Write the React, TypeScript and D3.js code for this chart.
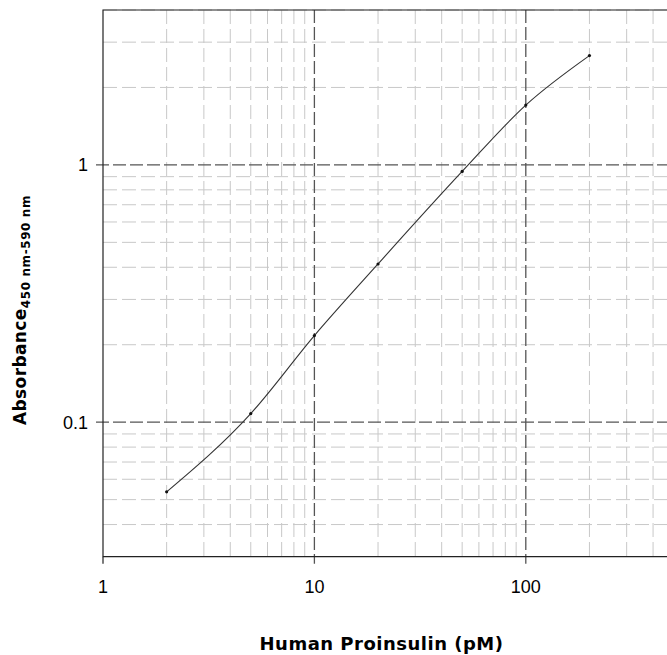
import React, { useRef, useEffect } from "react"
import * as d3 from "d3"

// Proinsulin standard curve
const concentrations = [2, 5, 10, 20, 50, 100, 200]
const absorbance = [0.0536, 0.108, 0.217, 0.412, 0.943, 1.708, 2.66]
const xMajorTicks = [1, 10, 100]
const xTickLabels = ["1", "10", "100"]
const yMajorTicks = [0.1, 1]
const yTickLabels = ["0.1", "1"]
const xMinorTicks = [2, 3, 4, 5, 6, 7, 8, 9, 20, 30, 40, 50, 60, 70, 80, 90, 200, 300, 400]
const yMinorTicks = [0.04, 0.05, 0.06, 0.07, 0.08, 0.09, 0.2, 0.3, 0.4, 0.5, 0.6, 0.7, 0.8, 0.9, 2, 3, 4]

const App = () => {
    const element = useRef<SVGSVGElement>(null)

    useEffect(() => {
        const width = 667
        const left = 103, top = 10, bottom = 556.7, decade = 211.4

        const svg = d3.select(element.current)
        svg.selectAll("*").remove()

        const x = d3.scaleLog()
            .domain([1, 1000])
            .range([left, left + 3 * decade])

        const y = d3.scaleLog()
            .domain([0.03, 4])
            .range([bottom, top])

        const right = width

        // minor grid
        svg.append("g")
            .selectAll("line")
            .data(xMinorTicks)
            .enter()
            .append("line")
            .attr("x1", d => x(d)).attr("x2", d => x(d))
            .attr("y1", top).attr("y2", bottom)
            .attr("stroke", "#c8c8c8")
            .attr("stroke-width", 1)
            .attr("stroke-dasharray", "14,5")

        svg.append("g")
            .selectAll("line")
            .data(yMinorTicks)
            .enter()
            .append("line")
            .attr("y1", d => y(d)).attr("y2", d => y(d))
            .attr("x1", left).attr("x2", right)
            .attr("stroke", "#c8c8c8")
            .attr("stroke-width", 1)
            .attr("stroke-dasharray", "14,5")

        // major grid
        svg.append("g")
            .selectAll("line")
            .data(xMajorTicks.slice(1))
            .enter()
            .append("line")
            .attr("x1", d => x(d)).attr("x2", d => x(d))
            .attr("y1", top).attr("y2", bottom + 7)
            .attr("stroke", "#555")
            .attr("stroke-width", 1.3)
            .attr("stroke-dasharray", "13,4")

        svg.append("g")
            .selectAll("line")
            .data(yMajorTicks)
            .enter()
            .append("line")
            .attr("y1", d => y(d)).attr("y2", d => y(d))
            .attr("x1", left - 7).attr("x2", right)
            .attr("stroke", "#555")
            .attr("stroke-width", 1.3)
            .attr("stroke-dasharray", "13,4")

        // frame
        svg.append("path")
            .attr("d", `M${right},${top}H${left}V${bottom}H${right}`)
            .attr("fill", "none")
            .attr("stroke", "#222")
            .attr("stroke-width", 1.2)
        svg.append("line")
            .attr("x1", left).attr("x2", left)
            .attr("y1", bottom).attr("y2", bottom + 7)
            .attr("stroke", "#222")
            .attr("stroke-width", 1.2)

        // tick labels
        svg.append("g")
            .selectAll("text")
            .data(xMajorTicks)
            .enter()
            .append("text")
            .attr("x", d => x(d))
            .attr("y", 593)
            .attr("text-anchor", "middle")
            .style("font-family", "'Liberation Sans', Arial, sans-serif")
            .style("font-size", "18px")
            .text((d, i) => xTickLabels[i])

        svg.append("g")
            .selectAll("text")
            .data(yMajorTicks)
            .enter()
            .append("text")
            .attr("x", 88)
            .attr("y", d => y(d))
            .attr("dy", "0.36em")
            .attr("text-anchor", "end")
            .style("font-family", "'Liberation Sans', Arial, sans-serif")
            .style("font-size", "18px")
            .text((d, i) => yTickLabels[i])

        // curve
        const pts = concentrations.map((c, i) => [c, absorbance[i]] as [number, number])
        svg.append("path")
            .datum(pts)
            .attr("d", d3.line<[number, number]>()
                .x(d => x(d[0]))
                .y(d => y(d[1]))
                .curve(d3.curveMonotoneX))
            .attr("fill", "none")
            .attr("stroke", "#333")
            .attr("stroke-width", 1.1)

        svg.append("g")
            .selectAll("circle")
            .data(pts)
            .enter()
            .append("circle")
            .attr("cx", d => x(d[0]))
            .attr("cy", d => y(d[1]))
            .attr("r", 1.6)
            .attr("fill", "#111")

        // axis titles
        svg.append("text")
            .attr("x", 381.5)
            .attr("y", 650)
            .attr("text-anchor", "middle")
            .style("font-family", "'DejaVu Sans', Verdana, sans-serif")
            .style("font-weight", "bold")
            .style("font-size", "18px")
            .style("letter-spacing", "0.5px")
            .text("Human Proinsulin (pM)")

        const yt = svg.append("text")
            .attr("transform", "translate(25.5,310) rotate(-90)")
            .attr("text-anchor", "middle")
            .style("font-family", "'DejaVu Sans', Verdana, sans-serif")
            .style("font-weight", "bold")
            .style("font-size", "17px")
            .style("letter-spacing", "0.4px")
        yt.append("tspan").text("Absorbance")
        yt.append("tspan")
            .attr("dy", 4)
            .style("font-size", "12px")
            .style("letter-spacing", "0.6px")
            .text("450 nm-590 nm")
    }, [])

    return (
        <div style={{ position: "absolute", left: 0, top: 0 }}>
            <svg ref={element} width={667} height={655} style={{ display: "block", background: "#fff" }}></svg>
        </div>
    )
}

export default App
